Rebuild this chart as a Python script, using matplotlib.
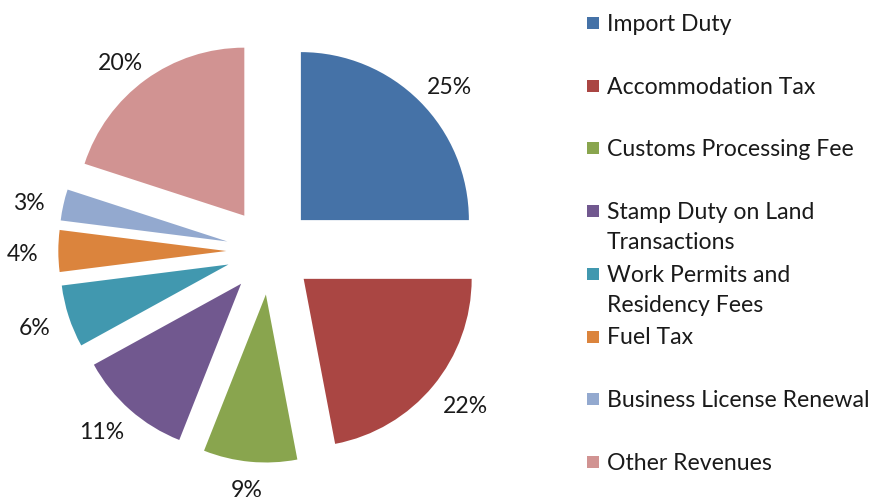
import matplotlib
matplotlib.use("Agg")
import matplotlib.pyplot as plt
import numpy as np
from matplotlib.patches import Rectangle

categories = ["Import Duty", "Accommodation Tax", "Customs Processing Fee",
              "Stamp Duty on Land Transactions", "Work Permits and Residency Fees",
              "Fuel Tax", "Business License Renewal", "Other Revenues"]
legend_labels = ["Import Duty", "Accommodation Tax", "Customs Processing Fee",
                 "Stamp Duty on Land\nTransactions", "Work Permits and\nResidency Fees",
                 "Fuel Tax", "Business License Renewal", "Other Revenues"]
values = [25, 22, 9, 11, 6, 4, 3, 20]
colors = ["#4572A7", "#AA4643", "#89A54E", "#71588F",
          "#4198AF", "#DB843D", "#93A9CF", "#D19392"]

plt.rcParams['font.family'] = ['Lato', 'DejaVu Sans']
TXT = "#1a1a1a"

W, H = 873, 502
fig = plt.figure(figsize=(W / 100, H / 100), dpi=100)
renderer = fig.canvas.get_renderer()

# fit font size to the reference legend width
probe = fig.text(0, 0, "Business License Renewal", fontsize=10)
pw = probe.get_window_extent(renderer).width
probe.remove()
fs = 10 * 261 / pw

R = 168.0
cx, cy = 270.0, H - 252.0
ax = fig.add_axes([0, 0, 1, 1])
wedges, _ = ax.pie(values, colors=colors, startangle=90, counterclock=False,
                   explode=[0.26] * len(values), radius=1,
                   wedgeprops=dict(linewidth=0))
ax.set_xlim(-cx / R, (W - cx) / R)
ax.set_ylim(-cy / R, (H - cy) / R)
ax.set_aspect('auto')
ax.axis('off')

total = sum(values)
gap = 20 / R
drop = 3 / R
for wdg, v in zip(wedges, values):
    phi = np.deg2rad((wdg.theta1 + wdg.theta2) / 2)
    dx, dy = np.cos(phi), np.sin(phi)
    vx, vy = wdg.center
    t = ax.text(0, 0, f"{round(100 * v / total)}%", fontsize=fs, color=TXT,
                ha='center', va='center')
    bb = t.get_window_extent(renderer)
    w = bb.width / 2 / R
    h = (bb.height * 0.5) / 2 / R
    t.set_position((vx + (1 + gap) * dx + w * dx,
                    vy + (1 + gap) * dy + h * dy - drop))

# legend drawn in figure pixel coords
sq = 12
for i, (lab, c) in enumerate(zip(legend_labels, colors)):
    base = 31 + 62.7 * i
    fig.patches.append(Rectangle((587 / W, 1 - (base - 1) / H), sq / W, sq / H,
                                 transform=fig.transFigure, facecolor=c,
                                 edgecolor='none'))
    for j, line in enumerate(lab.split("\n")):
        fig.text(607 / W, 1 - (base + 30 * j) / H, line, fontsize=fs,
                 color=TXT, ha='left', va='baseline')

fig.savefig("out.png", dpi=100, facecolor='white')
